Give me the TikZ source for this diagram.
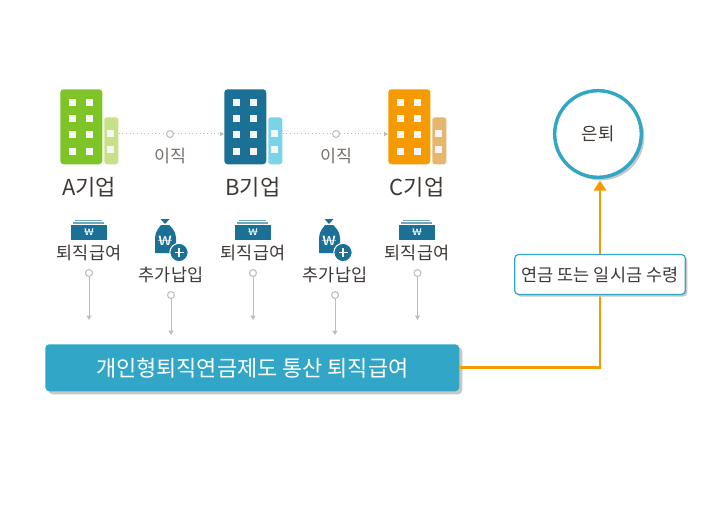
\documentclass[tikz,border=0pt]{standalone}
\usepackage{fontspec}
\usetikzlibrary{arrows.meta,shadows,calc}
\setmainfont{Noto Sans CJK KR}
\definecolor{tealbar}{HTML}{31A6C6}
\definecolor{navy}{HTML}{1B7095}
\definecolor{navylight}{HTML}{6FA8BE}
\definecolor{ink}{HTML}{3F3A36}
\definecolor{grayink}{HTML}{77716D}
\definecolor{orangeline}{HTML}{F59A00}
\definecolor{shade}{HTML}{C8C8C8}
\definecolor{win}{HTML}{F5F5F5}
\definecolor{guide}{HTML}{BDBDBD}
\definecolor{greenA}{HTML}{7FC426}
\definecolor{greenB}{HTML}{C6E187}
\definecolor{blueB}{HTML}{7AD3E6}
\definecolor{orangeA}{HTML}{F59A00}
\definecolor{orangeB}{HTML}{E6B56E}
\newcommand{\fs}[1]{\fontsize{#1}{#1}\selectfont}
\tikzset{
  px/.style={x=0.75pt,y=-0.75pt},
  tower/.style={inner sep=0pt,rounded corners=2.5pt,minimum width=31.5pt,minimum height=56.25pt,anchor=north west},
  annex/.style={inner sep=0pt,rounded corners=2pt,minimum width=10.5pt,minimum height=35.25pt,anchor=north west},
  winbox/.style={fill=win,draw=none},
  firm/.style={font=\fs{16.5},text=ink,inner sep=0pt},
  moved/.style={font=\fs{13},text=grayink,inner sep=0pt},
  small/.style={font=\fs{13.1},text=ink,inner sep=0pt},
  hole/.style={circle,draw=guide,fill=white,line width=0.8pt,minimum size=5.2pt,inner sep=0pt},
  dotline/.style={draw=guide,line width=0.75pt,dotted,-{Triangle[width=3.2pt,length=3pt,fill=guide]}},
  plainline/.style={draw=guide,line width=0.75pt,dotted},
  dropline/.style={draw=guide,line width=0.75pt,-{Triangle[width=3.6pt,length=3.2pt,fill=guide]}},
  bar/.style={fill=tealbar,rounded corners=3pt,minimum width=310.5pt,minimum height=35.25pt,inner sep=0pt,text=white,font=\fs{16.45},
    copy shadow={shadow xshift=2.25pt,shadow yshift=-2.25pt,draw=none,fill=shade}},
  retire/.style={circle,draw=tealbar,fill=white,line width=2.6pt,minimum size=65pt,inner sep=0pt,text=ink,font=\fs{13.4},
    copy shadow={shadow xshift=2.25pt,shadow yshift=-2.25pt,draw=none,fill=shade}},
  tag/.style={draw=tealbar,fill=white,line width=0.9pt,rounded corners=3pt,minimum width=128pt,minimum height=30pt,inner sep=0pt,text=ink,font=\fs{13.1},
    copy shadow={shadow xshift=1.5pt,shadow yshift=-1.5pt,draw=none,fill=shade}},
  flow/.style={draw=orangeline,line width=2pt,-{Triangle[width=9pt,length=7.5pt,fill=orangeline]}},
  won/.style={text=white,inner sep=0pt,font=\fs{#1}}
}
\newcommand{\bldg}[4]{%
  \node[tower,fill=#3] (t#1) at (#2,89) {};
  \node[annex,fill=#4] (s#1) at (#2+44,117) {};
  \foreach \yy in {99,115,131,148}{
    \fill[winbox] (#2+9,\yy) rectangle ++(7,7);
    \fill[winbox] (#2+26,\yy) rectangle ++(7,7);
  }
  \foreach \yy in {130,146}{\fill[winbox] (#2+47,\yy) rectangle ++(7,7);}
}
\newcommand{\payicon}[1]{%
  \fill[navylight] (#1-14,219.5) rectangle (#1+13,220.7);
  \fill[navylight] (#1-16,222) rectangle (#1+15,223.5);
  \fill[navy] (#1-18,225) rectangle (#1+18,239.5);
  \node[won=10.5] at (#1,232) {\resizebox{7pt}{5pt}{₩}};
}
\newcommand{\bagicon}[1]{%
  \fill[navy] (#1-10.5,219) -- (#1-1.5,219) -- (#1-6,224) -- cycle;
  \fill[navy] (#1-16,253) -- (#1-16,238) .. controls (#1-16,231) and (#1-11,227) .. (#1-10,225)
     -- (#1-2,225) .. controls (#1,227) and (#1+5,231) .. (#1+5,238) -- (#1+5,253) -- cycle;
  \node[won=11.5] at (#1-6,241) {\resizebox{10pt}{7pt}{₩}};
  \fill[navy,draw=white,line width=0.8pt] (#1+8,252.5) circle (9.2);
  \draw[white,line width=1.3pt] (#1+3.5,252.5) -- (#1+12.5,252.5) (#1+8,248) -- (#1+8,257);
}
\begin{document}
\begin{tikzpicture}[px]
\useasboundingbox (0,0) rectangle (720,531);
\fill[white] (0,0) rectangle (720,531);

\bldg{A}{60}{greenA}{greenB}
\bldg{B}{224}{navy}{blueB}
\bldg{C}{388}{orangeA}{orangeB}

\node[firm] (fa) at (89,187) {A기업};
\node[firm] (fb) at (253,187) {B기업};
\node[firm] (fc) at (417,187) {C기업};

\node[hole] (m1) at (170,134) {};
\node[hole] (m2) at (336,134) {};
\draw[plainline] (sA.east |- m1) -- (m1);
\draw[dotline] (m1) -- (tB.west |- m1);
\draw[plainline] (sB.east |- m2) -- (m2);
\draw[dotline] (m2) -- (tC.west |- m2);
\node[moved] (ml1) at (170,156) {이직};
\node[moved] (ml2) at (336,156) {이직};

\payicon{89}
\payicon{253}
\payicon{417}
\bagicon{171}
\bagicon{335}
\node[small] (pa) at (89,253) {퇴직급여};
\node[small] (pb) at (253,253) {퇴직급여};
\node[small] (pc) at (417,253) {퇴직급여};
\node[small] (ga) at (171,275) {추가납입};
\node[small] (gb) at (335,275) {추가납입};

\node[bar,anchor=north west] (total) at (45,344) {개인형퇴직연금제도 통산 퇴직급여};

\node[hole] (h1) at (89,273) {};
\node[hole] (h2) at (171,295) {};
\node[hole] (h3) at (253,273) {};
\node[hole] (h4) at (335,295) {};
\node[hole] (h5) at (417.5,273) {};
\coordinate (e1) at (89,320);
\coordinate (e2) at (171,335);
\coordinate (e3) at (253,320);
\coordinate (e4) at (335,335);
\coordinate (e5) at (417.5,320);
\foreach \i in {1,...,5}{\draw[dropline] (h\i) -- (e\i);}

\node[retire] (out) at (598,134) {은퇴};
\coordinate (tip) at (600,180.5);
\draw[flow] (total.east) -| (tip);
\node[tag] (how) at (600,274.5) {연금 또는 일시금 수령};
\end{tikzpicture}
\end{document}
